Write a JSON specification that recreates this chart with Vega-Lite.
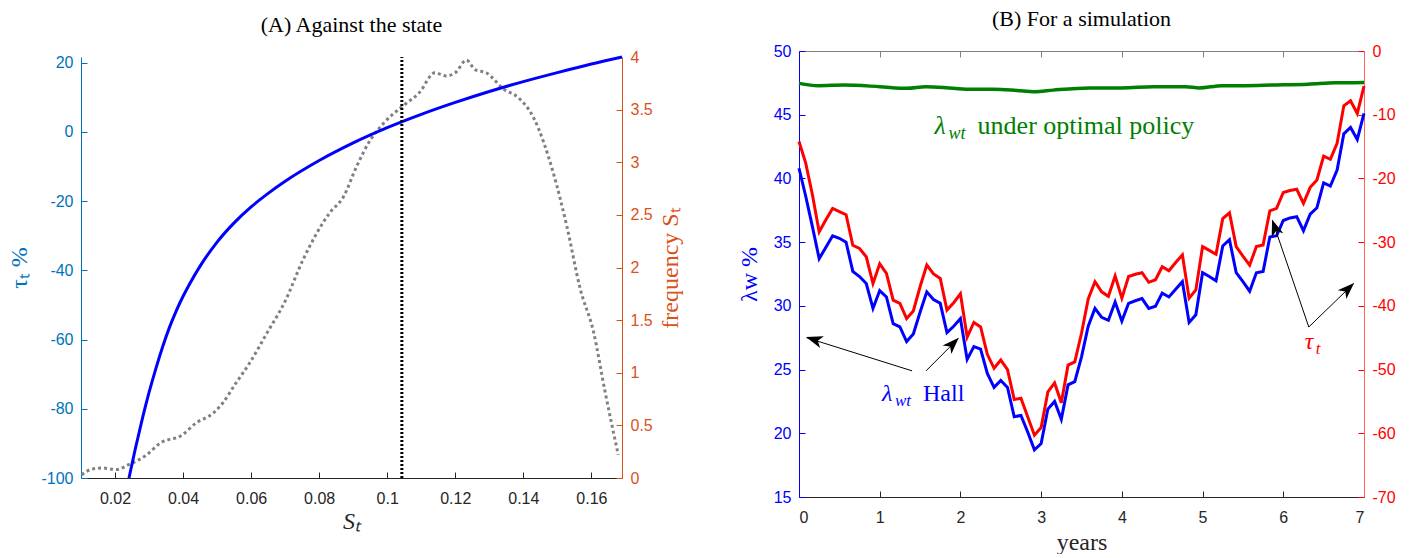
{
  "$schema": "https://vega.github.io/schema/vega-lite/v6.json",
  "background": "white",
  "padding": {"left": 7, "top": 8, "right": 5, "bottom": 0},
  "spacing": 54,
  "datasets": {
    "blueA": [
      {"S": 0.0241, "tau": -100}, {"S": 0.026, "tau": -91.4}, {"S": 0.028, "tau": -83.0},
      {"S": 0.03, "tau": -75.3}, {"S": 0.032, "tau": -68.4}, {"S": 0.034, "tau": -62.1},
      {"S": 0.036, "tau": -56.5}, {"S": 0.038, "tau": -51.7}, {"S": 0.04, "tau": -47.5},
      {"S": 0.042, "tau": -43.8}, {"S": 0.045, "tau": -38.8}, {"S": 0.05, "tau": -31.85},
      {"S": 0.055, "tau": -26.3}, {"S": 0.06, "tau": -21.7}, {"S": 0.065, "tau": -17.8},
      {"S": 0.07, "tau": -14.3}, {"S": 0.08, "tau": -8.3}, {"S": 0.09, "tau": -3.2},
      {"S": 0.1, "tau": 1.2}, {"S": 0.11, "tau": 5.05}, {"S": 0.12, "tau": 8.5},
      {"S": 0.13, "tau": 11.65}, {"S": 0.14, "tau": 14.5}, {"S": 0.15, "tau": 17.1},
      {"S": 0.16, "tau": 19.57}, {"S": 0.169, "tau": 21.6}
    ],
    "freqA": [
      {"S": 0.0102, "f": 0.03}, {"S": 0.0128, "f": 0.08}, {"S": 0.0161, "f": 0.095},
      {"S": 0.0204, "f": 0.08}, {"S": 0.024, "f": 0.126}, {"S": 0.0293, "f": 0.22},
      {"S": 0.0332, "f": 0.33}, {"S": 0.0398, "f": 0.41}, {"S": 0.0437, "f": 0.52},
      {"S": 0.049, "f": 0.62}, {"S": 0.0516, "f": 0.71}, {"S": 0.0555, "f": 0.9},
      {"S": 0.0595, "f": 1.09}, {"S": 0.0647, "f": 1.38}, {"S": 0.07, "f": 1.68},
      {"S": 0.0752, "f": 2.07}, {"S": 0.0831, "f": 2.52}, {"S": 0.0871, "f": 2.67},
      {"S": 0.091, "f": 2.96}, {"S": 0.095, "f": 3.21}, {"S": 0.0989, "f": 3.37},
      {"S": 0.1044, "f": 3.53}, {"S": 0.1094, "f": 3.66}, {"S": 0.114, "f": 3.85},
      {"S": 0.1173, "f": 3.82}, {"S": 0.12, "f": 3.85}, {"S": 0.1233, "f": 3.97},
      {"S": 0.1258, "f": 3.88}, {"S": 0.1291, "f": 3.85}, {"S": 0.1344, "f": 3.69},
      {"S": 0.1383, "f": 3.62}, {"S": 0.1429, "f": 3.43}, {"S": 0.1488, "f": 2.9},
      {"S": 0.1528, "f": 2.39}, {"S": 0.1567, "f": 1.8}, {"S": 0.1607, "f": 1.38},
      {"S": 0.1639, "f": 0.84}, {"S": 0.1679, "f": 0.22}
    ],
    "sim": [
      {"yr": 0, "lam": 40.8, "tau": -14.2}, {"yr": 0.0833, "lam": 38.6, "tau": -17.6},
      {"yr": 0.1667, "lam": 36.2, "tau": -22.6}, {"yr": 0.25, "lam": 33.7, "tau": -28.4},
      {"yr": 0.3333, "lam": 34.6, "tau": -26.5}, {"yr": 0.4167, "lam": 35.5, "tau": -24.7},
      {"yr": 0.5, "lam": 35.3, "tau": -25.2}, {"yr": 0.5833, "lam": 35.0, "tau": -25.7},
      {"yr": 0.6667, "lam": 32.7, "tau": -30.5}, {"yr": 0.75, "lam": 32.3, "tau": -31.0},
      {"yr": 0.8333, "lam": 31.75, "tau": -32.3}, {"yr": 0.9167, "lam": 29.8, "tau": -36.5},
      {"yr": 1, "lam": 31.2, "tau": -33.4}, {"yr": 1.0833, "lam": 30.7, "tau": -34.9},
      {"yr": 1.1667, "lam": 28.6, "tau": -39.1}, {"yr": 1.25, "lam": 28.35, "tau": -39.6},
      {"yr": 1.3333, "lam": 27.2, "tau": -42.0}, {"yr": 1.4167, "lam": 27.8, "tau": -40.8},
      {"yr": 1.5, "lam": 29.5, "tau": -37.0}, {"yr": 1.5833, "lam": 31.1, "tau": -33.6},
      {"yr": 1.6667, "lam": 30.5, "tau": -35.0}, {"yr": 1.75, "lam": 30.2, "tau": -35.7},
      {"yr": 1.8333, "lam": 27.9, "tau": -40.65}, {"yr": 1.9167, "lam": 28.4, "tau": -39.5},
      {"yr": 2, "lam": 29.0, "tau": -38.1}, {"yr": 2.0833, "lam": 25.8, "tau": -44.9},
      {"yr": 2.1667, "lam": 26.8, "tau": -42.6}, {"yr": 2.25, "lam": 26.6, "tau": -43.3},
      {"yr": 2.3333, "lam": 24.7, "tau": -47.6}, {"yr": 2.4167, "lam": 23.6, "tau": -49.8},
      {"yr": 2.5, "lam": 24.15, "tau": -48.5}, {"yr": 2.5833, "lam": 23.6, "tau": -50.0},
      {"yr": 2.6667, "lam": 21.3, "tau": -54.7}, {"yr": 2.75, "lam": 21.4, "tau": -54.5},
      {"yr": 2.8333, "lam": 20.1, "tau": -57.4}, {"yr": 2.9167, "lam": 18.7, "tau": -60.3},
      {"yr": 3, "lam": 19.2, "tau": -59.1}, {"yr": 3.0833, "lam": 21.9, "tau": -53.5},
      {"yr": 3.1667, "lam": 22.5, "tau": -52.1}, {"yr": 3.25, "lam": 21.1, "tau": -55.2},
      {"yr": 3.3333, "lam": 23.8, "tau": -49.3}, {"yr": 3.4167, "lam": 24.05, "tau": -48.8},
      {"yr": 3.5, "lam": 26.0, "tau": -44.3}, {"yr": 3.5833, "lam": 28.4, "tau": -38.9},
      {"yr": 3.6667, "lam": 29.8, "tau": -36.2}, {"yr": 3.75, "lam": 29.1, "tau": -37.8},
      {"yr": 3.8333, "lam": 28.87, "tau": -38.5}, {"yr": 3.9167, "lam": 30.3, "tau": -35.3},
      {"yr": 4, "lam": 28.8, "tau": -38.8}, {"yr": 4.0833, "lam": 30.2, "tau": -35.4},
      {"yr": 4.1667, "lam": 30.4, "tau": -35.05}, {"yr": 4.25, "lam": 30.57, "tau": -34.8},
      {"yr": 4.3333, "lam": 29.8, "tau": -36.3}, {"yr": 4.4167, "lam": 29.97, "tau": -35.9},
      {"yr": 4.5, "lam": 31.0, "tau": -33.86}, {"yr": 4.5833, "lam": 30.7, "tau": -34.5},
      {"yr": 4.6667, "lam": 31.3, "tau": -33.2}, {"yr": 4.75, "lam": 31.9, "tau": -32.0},
      {"yr": 4.8333, "lam": 28.7, "tau": -38.8}, {"yr": 4.9167, "lam": 29.3, "tau": -37.5},
      {"yr": 5, "lam": 32.6, "tau": -30.7}, {"yr": 5.0833, "lam": 32.3, "tau": -31.3},
      {"yr": 5.1667, "lam": 31.96, "tau": -31.9}, {"yr": 5.25, "lam": 34.7, "tau": -26.3},
      {"yr": 5.3333, "lam": 35.2, "tau": -25.4}, {"yr": 5.4167, "lam": 32.6, "tau": -30.7},
      {"yr": 5.5, "lam": 31.9, "tau": -32.2}, {"yr": 5.5833, "lam": 31.15, "tau": -33.6},
      {"yr": 5.6667, "lam": 32.6, "tau": -30.7}, {"yr": 5.75, "lam": 32.7, "tau": -30.45},
      {"yr": 5.8333, "lam": 35.4, "tau": -25.1}, {"yr": 5.9167, "lam": 35.5, "tau": -24.7},
      {"yr": 6, "lam": 36.7, "tau": -22.2}, {"yr": 6.0833, "lam": 36.9, "tau": -21.9},
      {"yr": 6.1667, "lam": 37.0, "tau": -21.7}, {"yr": 6.25, "lam": 35.9, "tau": -23.9},
      {"yr": 6.3333, "lam": 37.2, "tau": -21.4}, {"yr": 6.4167, "lam": 37.7, "tau": -20.25},
      {"yr": 6.5, "lam": 39.65, "tau": -16.5}, {"yr": 6.5833, "lam": 39.4, "tau": -17.0},
      {"yr": 6.6667, "lam": 40.65, "tau": -14.5}, {"yr": 6.75, "lam": 43.5, "tau": -8.6},
      {"yr": 6.8333, "lam": 44.0, "tau": -7.8}, {"yr": 6.9167, "lam": 43.06, "tau": -9.8},
      {"yr": 7, "lam": 45.1, "tau": -5.5}
    ],
    "green": [
      {"yr": 0, "lam": 47.46}, {"yr": 0.24, "lam": 47.28}, {"yr": 0.55, "lam": 47.33},
      {"yr": 1.0, "lam": 47.2}, {"yr": 1.34, "lam": 47.07}, {"yr": 1.57, "lam": 47.2},
      {"yr": 1.91, "lam": 47.07}, {"yr": 2.13, "lam": 47.0}, {"yr": 2.42, "lam": 47.0},
      {"yr": 2.7, "lam": 46.9}, {"yr": 2.92, "lam": 46.8}, {"yr": 3.15, "lam": 46.93},
      {"yr": 3.6, "lam": 47.1}, {"yr": 4.0, "lam": 47.1}, {"yr": 4.39, "lam": 47.2},
      {"yr": 4.79, "lam": 47.2}, {"yr": 4.96, "lam": 47.1}, {"yr": 5.24, "lam": 47.28},
      {"yr": 5.52, "lam": 47.28}, {"yr": 5.86, "lam": 47.33}, {"yr": 6.31, "lam": 47.4},
      {"yr": 6.65, "lam": 47.5}, {"yr": 7.0, "lam": 47.52}
    ],
    "arrows": [
      {"yr": 1.401, "lam": 24.9, "yr2": 0.095, "lam2": 27.5},
      {"yr": 1.574, "lam": 24.9, "yr2": 1.975, "lam2": 27.45},
      {"yr": 6.316, "lam": 28.34, "yr2": 5.865, "lam2": 36.7},
      {"yr": 6.316, "lam": 28.34, "yr2": 6.872, "lam2": 31.75}
    ]
  },
  "hconcat": [
    {
      "title": {"text": "(A) Against the state", "offset": 12},
      "width": 541,
      "height": 427,
      "layer": [
        {
          "data": {"name": "freqA"},
          "mark": {"type": "line", "color": "#808080", "strokeWidth": 3, "strokeDash": [3, 3], "interpolate": "monotone"},
          "encoding": {
            "x": {"field": "S", "type": "quantitative", "scale": {"domain": [0.01, 0.169], "nice": false, "zero": false},
              "axis": {"title": "Sₜ", "titleFontStyle": "italic", "titlePadding": 3, "values": [0.02, 0.04, 0.06, 0.08, 0.1, 0.12, 0.14, 0.16], "format": ".2~f"}},
            "y": {"field": "f", "type": "quantitative", "scale": {"domain": [0, 4], "nice": false, "zero": false, "range": [427, 6]},
              "axis": {"orient": "right", "title": "frequency Sₜ", "titleAngle": 270, "titleBaseline": "top", "titlePadding": 6, "values": [0, 0.5, 1, 1.5, 2, 2.5, 3, 3.5, 4], "format": "~g",
                "labelColor": "#D95319", "domainColor": "#D95319", "tickColor": "#D95319", "titleColor": "#D95319"}}
          }
        },
        {
          "layer": [
            {
              "data": {"name": "blueA"},
              "mark": {"type": "line", "color": "#0000FF", "strokeWidth": 3, "interpolate": "monotone"},
              "encoding": {
                "x": {"field": "S", "type": "quantitative"},
                "y": {"field": "tau", "type": "quantitative", "scale": {"domain": [-100, 21.6], "nice": false, "zero": false, "range": [427, 6]},
                  "axis": {"orient": "left", "title": "τₜ  %", "values": [-100, -80, -60, -40, -20, 0, 20], "labelExpr": "replace(datum.label, '−', '-')",
                    "labelColor": "#0072BD", "domainColor": "#0072BD", "tickColor": "#0072BD", "titleColor": "#0072BD"}}
              }
            },
            {
              "data": {"values": [{"S": 0.1043, "lo": -100, "hi": 21.6}]},
              "mark": {"type": "rule", "color": "black", "strokeWidth": 3, "strokeDash": [2, 2]},
              "encoding": {
                "x": {"field": "S", "type": "quantitative"},
                "y": {"field": "lo", "type": "quantitative", "title": "τₜ  %"},
                "y2": {"field": "hi"}
              }
            }
          ]
        }
      ],
      "resolve": {"scale": {"y": "independent"}}
    },
    {
      "title": {"text": "(B) For a simulation", "offset": 12},
      "width": 565,
      "height": 446,
      "layer": [
        {
          "encoding": {
            "x": {"field": "yr", "type": "quantitative", "scale": {"domain": [0, 7], "nice": false, "zero": false},
              "axis": {"orient": "bottom", "title": "years", "titlePadding": 5, "values": [0, 1, 2, 3, 4, 5, 6, 7]}},
            "y": {"field": "lam", "type": "quantitative", "scale": {"domain": [15, 50], "nice": false, "zero": false},
              "axis": {"orient": "left", "title": "λw  %", "titlePadding": 12, "values": [15, 20, 25, 30, 35, 40, 45, 50],
                "labelColor": "#0000FF", "domainColor": "#0000FF", "tickColor": "#0000FF", "titleColor": "#0000FF"}}
          },
          "layer": [
            {"data": {"name": "green"}, "mark": {"type": "line", "color": "#008000", "strokeWidth": 3.5, "interpolate": "monotone"}},
            {"data": {"name": "sim"}, "mark": {"type": "line", "color": "#0000FF", "strokeWidth": 3}},
            {"data": {"name": "arrows"}, "mark": {"type": "rule", "color": "black", "strokeWidth": 1},
              "encoding": {"x2": {"field": "yr2"}, "y2": {"field": "lam2"}}},
            {"data": {"values": [{"yr": 0.087, "lam": 27.56}]}, "mark": {"type": "point", "shape": "M0,0L0.55,1.5L0,1.1L-0.55,1.5Z", "filled": true, "color": "black", "opacity": 1, "strokeWidth": 0, "size": 500, "angle": 287.6}},
            {"data": {"values": [{"yr": 1.979, "lam": 27.5}]}, "mark": {"type": "point", "shape": "M0,0L0.55,1.5L0,1.1L-0.55,1.5Z", "filled": true, "color": "black", "opacity": 1, "strokeWidth": 0, "size": 500, "angle": 44.4}},
            {"data": {"values": [{"yr": 5.861, "lam": 36.78}]}, "mark": {"type": "point", "shape": "M0,0L0.55,1.5L0,1.1L-0.55,1.5Z", "filled": true, "color": "black", "opacity": 1, "strokeWidth": 0, "size": 500, "angle": 341.1}},
            {"data": {"values": [{"yr": 6.877, "lam": 31.8}]}, "mark": {"type": "point", "shape": "M0,0L0.55,1.5L0,1.1L-0.55,1.5Z", "filled": true, "color": "black", "opacity": 1, "strokeWidth": 0, "size": 500, "angle": 45.8}},
            {"data": {"values": [{"yr": 1.68, "lam": 43.48, "label": "λ"}]}, "mark": {"type": "text", "font": "Liberation Serif", "fontSize": 26, "fontStyle": "italic", "align": "left", "baseline": "alphabetic", "color": "#008000"}, "encoding": {"text": {"field": "label"}}},
            {"data": {"values": [{"yr": 1.68, "lam": 43.48, "label": "wt"}]}, "mark": {"type": "text", "font": "Liberation Serif", "fontSize": 18, "fontStyle": "italic", "align": "left", "baseline": "alphabetic", "color": "#008000", "dx": 14, "dy": 5}, "encoding": {"text": {"field": "label"}}},
            {"data": {"values": [{"yr": 1.68, "lam": 43.48, "label": "under optimal policy"}]}, "mark": {"type": "text", "font": "Liberation Serif", "fontSize": 26, "align": "left", "baseline": "alphabetic", "color": "#008000", "dx": 43}, "encoding": {"text": {"field": "label"}}},
            {"data": {"values": [{"yr": 1.0285, "lam": 22.53, "label": "λ"}]}, "mark": {"type": "text", "font": "Liberation Serif", "fontSize": 24, "fontStyle": "italic", "align": "left", "baseline": "alphabetic", "color": "#0000FF"}, "encoding": {"text": {"field": "label"}}},
            {"data": {"values": [{"yr": 1.0285, "lam": 22.53, "label": "wt"}]}, "mark": {"type": "text", "font": "Liberation Serif", "fontSize": 17, "fontStyle": "italic", "align": "left", "baseline": "alphabetic", "color": "#0000FF", "dx": 13, "dy": 5}, "encoding": {"text": {"field": "label"}}},
            {"data": {"values": [{"yr": 1.0285, "lam": 22.53, "label": "Hall"}]}, "mark": {"type": "text", "font": "Liberation Serif", "fontSize": 24, "align": "left", "baseline": "alphabetic", "color": "#0000FF", "dx": 41}, "encoding": {"text": {"field": "label"}}},
            {"data": {"values": [{"yr": 6.266, "lam": 26.59, "label": "τ"}]}, "mark": {"type": "text", "font": "Liberation Serif", "fontSize": 24, "fontStyle": "italic", "align": "left", "baseline": "alphabetic", "color": "#FF0000"}, "encoding": {"text": {"field": "label"}}},
            {"data": {"values": [{"yr": 6.266, "lam": 26.59, "label": "t"}]}, "mark": {"type": "text", "font": "Liberation Serif", "fontSize": 17, "fontStyle": "italic", "align": "left", "baseline": "alphabetic", "color": "#FF0000", "dx": 11, "dy": 5}, "encoding": {"text": {"field": "label"}}}
          ]
        },
        {
          "data": {"name": "sim"},
          "mark": {"type": "line", "color": "#FF0000", "strokeWidth": 3},
          "encoding": {
            "x": {"field": "yr", "type": "quantitative", "scale": {"domain": [0, 7], "nice": false, "zero": false},
              "axis": {"orient": "top", "title": null, "labels": false, "values": [0, 1, 2, 3, 4, 5, 6, 7], "domainColor": "#808080", "tickColor": "#808080"}},
            "y": {"field": "tau", "type": "quantitative", "scale": {"domain": [-70, 0], "nice": false, "zero": false},
              "axis": {"orient": "right", "title": null, "values": [-70, -60, -50, -40, -30, -20, -10, 0], "labelExpr": "replace(datum.label, '−', '-')",
                "labelColor": "#FF0000", "domainColor": "#FF6060", "tickColor": "#FF0000"}}
          }
        }
      ],
      "resolve": {"scale": {"y": "independent"}, "axis": {"x": "independent"}}
    }
  ],
  "config": {
    "view": {"stroke": null},
    "axis": {
      "grid": false,
      "labelFont": "Liberation Sans",
      "labelFontSize": 16,
      "labelColor": "#262626",
      "domainColor": "#262626",
      "tickColor": "#262626",
      "titleColor": "#262626",
      "titleFont": "Liberation Serif",
      "titleFontSize": 24,
      "titleFontWeight": "normal",
      "tickSize": -6,
      "labelPadding": 14,
      "titlePadding": 9
    },
    "axisX": {"labelPadding": 18},
    "title": {"font": "Liberation Serif", "fontSize": 22, "fontWeight": "normal", "color": "#000000", "anchor": "middle", "frame": "group"}
  }
}
